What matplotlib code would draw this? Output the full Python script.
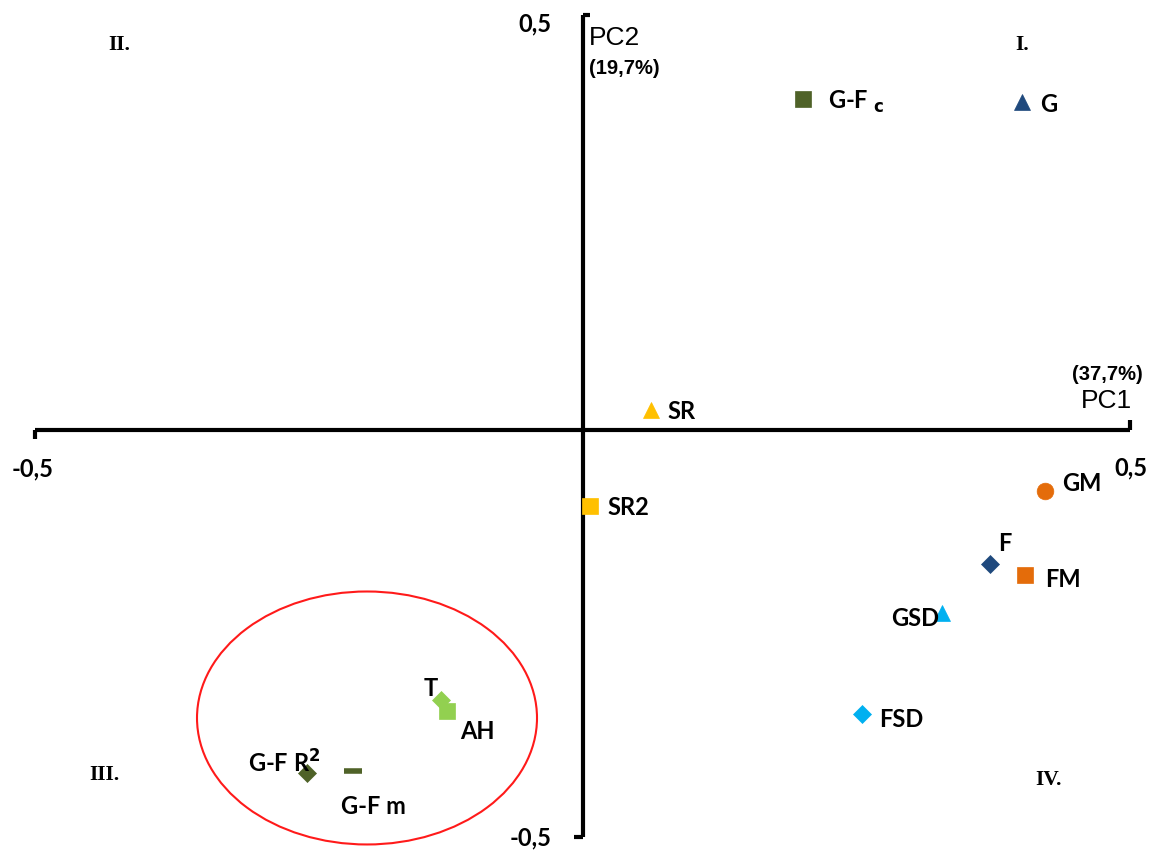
import matplotlib
matplotlib.use("Agg")
import matplotlib.pyplot as plt
from matplotlib.patches import Ellipse

# ---- data (PC1, PC2 loadings) ----
names = ["G-F c", "G", "SR", "SR2", "GM", "F", "FM", "GSD", "FSD", "T", "AH", "G-F R2", "G-F m"]
pc1 = [0.201, 0.401, 0.063, 0.007, 0.422, 0.372, 0.404, 0.328, 0.255, -0.129, -0.124, -0.252, -0.210]
pc2 = [0.404, 0.400, 0.024, -0.093, -0.074, -0.163, -0.177, -0.223, -0.346, -0.329, -0.343, -0.418, -0.416]
quadrants = ["I.", "II.", "III.", "IV."]
pc1_label = "PC1"
pc2_label = "PC2"
pc1_var = "(37,7%)"
pc2_var = "(19,7%)"
tick_pos = "0,5"
tick_neg = "-0,5"

# ---- styles ----
styles = {
    "G-F c": dict(marker="s", color="#4F6228", ms=12),
    "G": dict(marker="^", color="#1F497D", ms=12),
    "SR": dict(marker="^", color="#FFC000", ms=11),
    "SR2": dict(marker="s", color="#FFC000", ms=11),
    "GM": dict(marker="o", color="#E46C0A", ms=12),
    "F": dict(marker="D", color="#1F497D", ms=9),
    "FM": dict(marker="s", color="#E46C0A", ms=12),
    "GSD": dict(marker="^", color="#00B0F0", ms=12),
    "FSD": dict(marker="D", color="#00B0F0", ms=9),
    "T": dict(marker="D", color="#92D050", ms=9),
    "AH": dict(marker="s", color="#92D050", ms=12),
    "G-F R2": dict(marker="D", color="#4F6228", ms=9),
    "G-F m": dict(marker="_", color="#4F6228", ms=13, mew=4),
}
# label offsets in pixels (dx, dy), horizontal alignment
label_pos = {
    "G-F c": (25, -3, "left"),
    "G": (19, -2, "left"),
    "SR": (16, -1, "left"),
    "SR2": (17, -1, "left"),
    "GM": (18, 7, "left"),
    "F": (8, 20, "left"),
    "FM": (20, -4, "left"),
    "GSD": (-3, -6, "right"),
    "FSD": (17, -6, "left"),
    "T": (-3, 11, "right"),
    "AH": (13, -20, "left"),
    "G-F R2": (-59, 10, "left"),
    "G-F m": (-12, -35, "left"),
}
label_text = {
    "G-F c": r"G-F $_{\mathbf{c}}$",
    "G-F R2": r"G-F R$^{\mathbf{2}}$",
    "G-F m": "G-F m",
}

W, H = 1154, 850
fig = plt.figure(figsize=(W / 100, H / 100), dpi=100)
ax = fig.add_axes([0, 0, 1, 1])
# pixel mapping: x=0 at px 582.5, 1095 px per unit; y=0 at py 430, 820 px per unit
ax.set_xlim((0 - 582.5) / 1095, (W - 582.5) / 1095)
ax.set_ylim((430 - H) / 820, 430 / 820)
ax.axis("off")

lw = 3.0
ytop, ybot = 0.506, -0.496
# axes lines
ax.plot([-0.5, 0.5], [0, 0], color="black", lw=lw, solid_capstyle="butt", zorder=1)
ax.plot([0, 0], [ytop, ybot], color="black", lw=lw, solid_capstyle="butt", zorder=1)
# small end ticks
ax.plot([-0.5, -0.5], [0, -0.011], color="black", lw=lw, solid_capstyle="butt")
ax.plot([0.5, 0.5], [0, 0.012], color="black", lw=lw, solid_capstyle="butt")
ax.plot([0, 0.007], [ytop, ytop], color="black", lw=lw, solid_capstyle="butt")
ax.plot([0, -0.008], [ybot, ybot], color="black", lw=lw, solid_capstyle="butt")

# ellipse
ax.add_patch(Ellipse((-0.1968, -0.3512), 0.3105, 0.3085, fill=False, edgecolor="#FF1A1A", lw=1.5))

lab_font = dict(family=["Lato", "DejaVu Sans"], fontsize=17, fontweight="bold", color="black")
for n, x, y in zip(names, pc1, pc2):
    st = styles[n]
    ax.plot([x], [y], linestyle="none", marker=st["marker"], color=st["color"],
            markersize=st["ms"], markeredgewidth=st.get("mew", 0.5), zorder=3)
    dx, dy, ha = label_pos[n]
    ax.annotate(label_text.get(n, n), (x, y), xytext=(dx, dy), textcoords="offset pixels",
                ha=ha, va="center", zorder=4, **lab_font)

tick_font = dict(family="Lato", fontsize=17, fontweight="bold", color="black")
ax.text((535 - 582.5) / 1095, (430 - 24) / 820, tick_pos, ha="center", va="center", **tick_font)
ax.text((531 - 582.5) / 1095, (430 - 838) / 820, tick_neg, ha="center", va="center", **tick_font)
ax.text((33 - 582.5) / 1095, (430 - 469) / 820, tick_neg, ha="center", va="center", **tick_font)
ax.text((1131 - 582.5) / 1095, (430 - 468) / 820, tick_pos, ha="center", va="center", **tick_font)

ax.text((589 - 582.5) / 1095, (430 - 38) / 820, pc2_label, ha="left", va="center",
        family="Liberation Sans", fontsize=19)
ax.text((589 - 582.5) / 1095, (430 - 69) / 820, pc2_var, ha="left", va="center",
        family="Liberation Sans", fontsize=14.5, fontweight="bold")
ax.text((1132 - 582.5) / 1095, (430 - 401) / 820, pc1_label, ha="right", va="center",
        family="Liberation Sans", fontsize=19)
ax.text((1143 - 582.5) / 1095, (430 - 374) / 820, pc1_var, ha="right", va="center",
        family="Liberation Sans", fontsize=14.5, fontweight="bold")

roman = dict(family="Liberation Serif", fontsize=15.5, fontweight="bold", ha="center", va="center")
ax.text((1022 - 582.5) / 1095, (430 - 45) / 820, quadrants[0], **roman)
ax.text((119 - 582.5) / 1095, (430 - 45) / 820, quadrants[1], **roman)
ax.text((104 - 582.5) / 1095, (430 - 775) / 820, quadrants[2], **roman)
ax.text((1049 - 582.5) / 1095, (430 - 780) / 820, quadrants[3], **roman)

fig.savefig("out.png", dpi=100)
